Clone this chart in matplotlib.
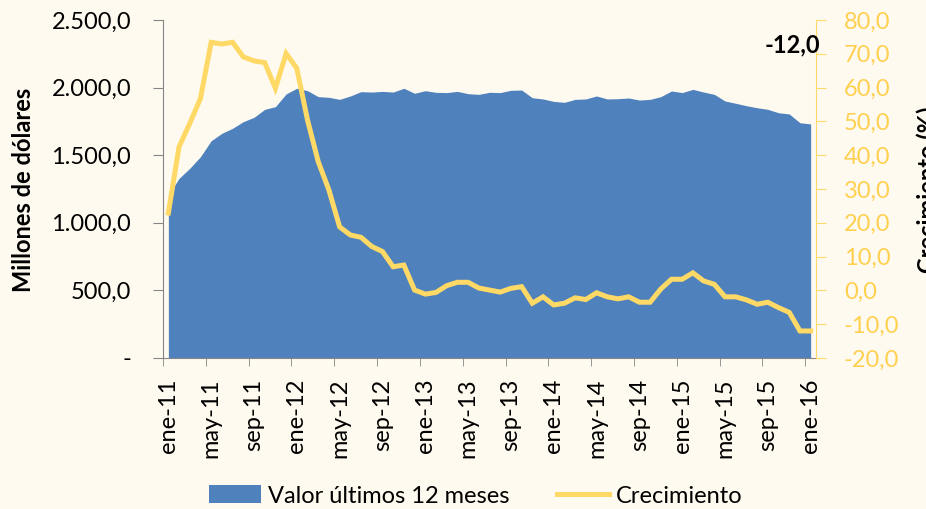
import matplotlib
matplotlib.use("Agg")
import matplotlib.pyplot as plt
from matplotlib.patches import Patch
from matplotlib.lines import Line2D
from matplotlib.ticker import FuncFormatter, FixedLocator

plt.rcParams['font.family'] = ['Lato', 'DejaVu Sans']

# monthly series, ene-11 .. ene-16
months = ['ene', 'feb', 'mar', 'abr', 'may', 'jun', 'jul', 'ago', 'sep', 'oct', 'nov', 'dic']
years = ['11', '12', '13', '14', '15', '16']

valor_12m = [
    1205, 1329, 1403, 1489, 1607, 1662, 1699, 1748, 1780, 1839, 1859, 1953,
    1995, 1977, 1933, 1928, 1913, 1938, 1970, 1967, 1972, 1967, 1995, 1958,
    1977, 1965, 1963, 1972, 1955, 1950, 1965, 1963, 1980, 1982, 1925, 1916,
    1898, 1891, 1913, 1916, 1938, 1916, 1918, 1923, 1908, 1913, 1933, 1975,
    1963, 1987, 1967, 1950, 1901, 1884, 1866, 1851, 1839, 1814, 1805, 1740,
    1731,
]
crecimiento = [
    22.9, 42.5, 49.4, 56.8, 73.4, 72.9, 73.4, 69.1, 67.9, 67.4, 59.8, 70.1,
    65.7, 50.4, 38.1, 29.7, 18.8, 16.4, 15.7, 13.0, 11.5, 7.0, 7.5, 0.1,
    -1.1, -0.6, 1.4, 2.4, 2.4, 0.7, 0.1, -0.5, 0.6, 1.1, -3.8, -1.9,
    -4.3, -3.8, -2.2, -2.7, -0.7, -1.9, -2.5, -1.9, -3.5, -3.5, 0.4, 3.3,
    3.3, 5.2, 2.8, 1.8, -1.9, -1.9, -2.8, -4.1, -3.5, -5.1, -6.5, -12.0,
    -12.0,
]

labels = [m + '-' + y for y in years for m in months][:len(valor_12m)]
x = list(range(len(valor_12m)))

bg = '#FFFAF0'
blue = '#4F81BD'
gold = '#FFD966'
gold_txt = '#FFD050'
grey = '#868686'
fs = 17

fig = plt.figure(figsize=(9.26, 5.09), dpi=100, facecolor=bg)
ax = fig.add_axes([163 / 926, 1 - 358 / 509, 653 / 926, 338 / 509])
ax.set_facecolor('none')

ax.fill_between(x, valor_12m, 0, color=blue, linewidth=0)
ax.set_xlim(-0.5, len(x) - 0.5)
ax.set_ylim(0, 2500)
ax.set_yticks([0, 500, 1000, 1500, 2000, 2500])


def fmt_left(v, pos):
    if v == 0:
        return '-'
    s = f'{v:,.1f}'
    return s.replace(',', 'X').replace('.', ',').replace('X', '.')


ax.yaxis.set_major_formatter(FuncFormatter(fmt_left))
ax.tick_params(axis='y', length=7, color=grey, pad=16, labelsize=fs)

# labels every 4 months, tick marks between categories
ax.set_xticks(x[::4])
ax.set_xticklabels(labels[::4], rotation=90)
ax.xaxis.set_minor_locator(FixedLocator([i - 0.5 for i in x[::4]]))
ax.tick_params(axis='x', which='major', length=0, pad=15, labelsize=fs)
ax.tick_params(axis='x', which='minor', length=6, color=grey)

for s in ['top', 'right']:
    ax.spines[s].set_visible(False)
ax.spines['left'].set_color(grey)
ax.spines['bottom'].set_color(grey)

ax2 = ax.twinx()
ax2.plot(x, crecimiento, color=gold, lw=3.6, solid_joinstyle='miter')
ax2.set_ylim(-20, 80)
ax2.set_yticks(range(-20, 81, 10))
ax2.yaxis.set_major_formatter(FuncFormatter(lambda v, p: f'{v:.1f}'.replace('.', ',')))
ax2.tick_params(axis='y', length=7, color=gold, labelcolor=gold_txt, pad=13, labelsize=fs)
for s in ['top', 'left', 'bottom']:
    ax2.spines[s].set_visible(False)
ax2.spines['right'].set_color(gold)

ax2.text(58.3, 72.6, '-12,0', ha='center', va='center', fontsize=fs, fontweight='bold')

fig.text(24 / 926, 1 - 190 / 509, 'Millones de dólares', rotation=90, ha='center', va='center',
         fontsize=fs, fontweight='bold')
# the reference cuts this label at the right edge
fig.text(928 / 926, 1 - 190 / 509, 'Crecimiento (%)', rotation=90, ha='center', va='center',
         fontsize=fs, fontweight='bold')

handles = [Patch(facecolor=blue, edgecolor='none'), Line2D([0], [0], color=gold, lw=3.6)]
fig.legend(handles, ['Valor últimos 12 meses', 'Crecimiento'], loc='center',
           bbox_to_anchor=(476 / 926, 1 - 496 / 509), ncol=2, frameon=False, fontsize=fs,
           handlelength=2.2, handleheight=0.8, handletextpad=0.3, columnspacing=2.0)

fig.savefig('out.png', dpi=100, facecolor=bg)
